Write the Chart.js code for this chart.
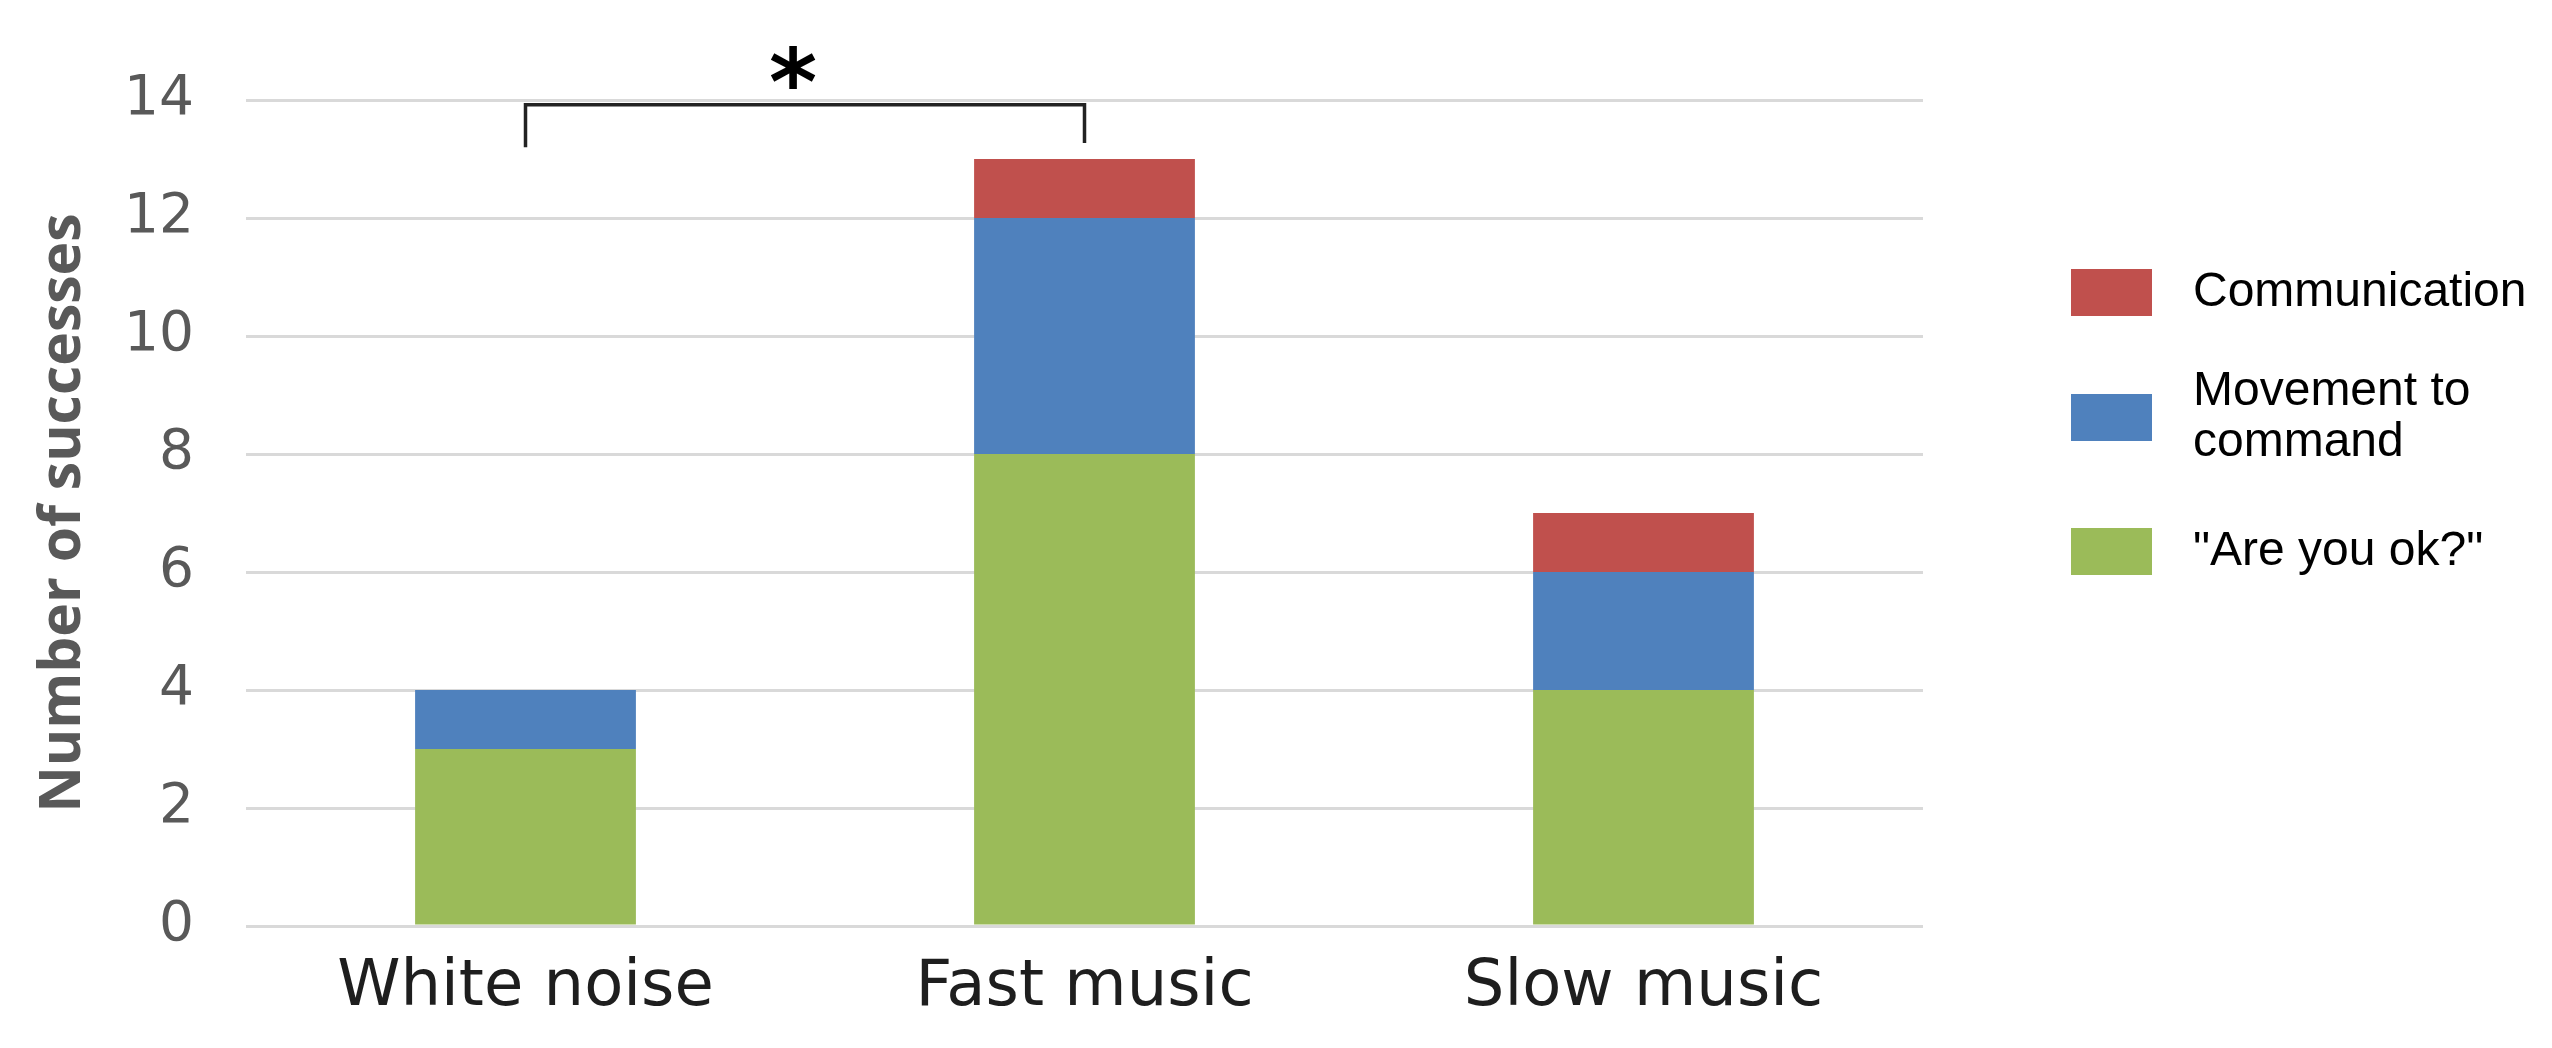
<!DOCTYPE html>
<html><head><meta charset="utf-8">
<script src="https://cdn.jsdelivr.net/npm/chart.js@4/dist/chart.umd.min.js"></script>
<style>html,body{margin:0;padding:0;background:#fff;overflow:hidden}#wrap{width:2552px;height:1048px}</style>
</head><body><div id="wrap"><canvas id="c" width="2552" height="1048"></canvas></div>
<script>
// ---- data ----
const categories = ['White noise', 'Fast music', 'Slow music'];
const areYouOk = [3, 8, 4];
const movementToCommand = [1, 4, 2];
const communication = [0, 1, 1];
const yTicks = [0, 2, 4, 6, 8, 10, 12, 14];
const seriesNames = ['"Are you ok?"', ['Movement to', 'command'], 'Communication'];
const seriesColors = ['#9bbb59', '#4f81bd', '#c0504d'];
const yTitle = 'Number of successes';
// significance bracket (category indices, y values)
const sigPair = [0, 1];
const sigBarY = 13.92;
const sigTickY = [13.2, 13.27];
const sigLabel = '*';

const overlay = {
  id: 'overlay',
  afterDraw(chart) {
    const ctx = chart.ctx, xs = chart.scales.x, ys = chart.scales.y;
    // bracket
    const xa = xs.getPixelForValue(sigPair[0]), xb = xs.getPixelForValue(sigPair[1]);
    const yTop = ys.getPixelForValue(sigBarY);
    ctx.save();
    ctx.strokeStyle = '#222';
    ctx.lineWidth = 3.5;
    ctx.lineJoin = 'miter';
    ctx.beginPath();
    ctx.moveTo(xa, ys.getPixelForValue(sigTickY[0]));
    ctx.lineTo(xa, yTop);
    ctx.lineTo(xb, yTop);
    ctx.lineTo(xb, ys.getPixelForValue(sigTickY[1]));
    ctx.stroke();
    // asterisk
    ctx.fillStyle = '#000';
    ctx.font = 'bold 92px "DejaVu Sans"';
    ctx.textAlign = 'center';
    ctx.textBaseline = 'alphabetic';
    ctx.fillText(sigLabel, (xa + xb) / 2 - 12, ys.getPixelForValue(13.75));
    // legend (reverse dataset order)
    ctx.font = '48px "Liberation Sans", Arial, sans-serif';
    ctx.textAlign = 'left';
    ctx.textBaseline = 'middle';
    const boxX = 2071, boxW = 81, boxH = 47, textX = 2193;
    const tops = [528, 394, 269];
    chart.data.datasets.forEach((ds, i) => {
      const top = tops[i];
      ctx.fillStyle = ds.backgroundColor;
      ctx.fillRect(boxX, top, boxW, boxH);
      ctx.fillStyle = '#000';
      const lines = Array.isArray(ds.label) ? ds.label : [ds.label];
      const lh = 51;
      const cy = top + boxH / 2;
      lines.forEach((t, k) => {
        ctx.fillText(t, textX, cy + (k - (lines.length - 1) / 2) * lh);
      });
    });
    ctx.restore();
  }
};

new Chart(document.getElementById('c'), {
  type: 'bar',
  data: {
    labels: categories,
    datasets: [
      { label: seriesNames[0], data: areYouOk, backgroundColor: seriesColors[0] },
      { label: seriesNames[1], data: movementToCommand, backgroundColor: seriesColors[1] },
      { label: seriesNames[2], data: communication, backgroundColor: seriesColors[2] }
    ]
  },
  options: {
    responsive: false,
    animation: false,
    devicePixelRatio: 1,
    layout: { padding: { left: 30, right: 629, top: 100, bottom: 0 } },
    datasets: { bar: { barPercentage: 0.395, categoryPercentage: 1, borderWidth: 0 } },
    plugins: { legend: { display: false }, tooltip: { enabled: false } },
    scales: {
      x: {
        stacked: true,
        grid: { display: false, drawTicks: false },
        border: { display: false },
        ticks: { color: '#1e1e1e', font: { family: '"DejaVu Sans"', size: 64 }, padding: 24, maxRotation: 0 },
        afterFit(axis) { axis.height = 122; }
      },
      y: {
        stacked: true,
        min: 0, max: 14,
        afterBuildTicks(axis) { axis.ticks = yTicks.map(v => ({ value: v })); },
        grid: { color: '#d9d9d9', lineWidth: 3, drawTicks: false },
        border: { display: false },
        ticks: { color: '#595959', font: { family: '"DejaVu Sans"', size: 55 }, padding: 52 },
        title: { display: true, text: yTitle, color: '#595959', padding: 0,
                 font: { family: '"Open Sans"', size: 57, weight: 'bold' } },
        afterFit(axis) { axis.width = 216; }
      }
    }
  },
  plugins: [overlay]
});
</script></body></html>
